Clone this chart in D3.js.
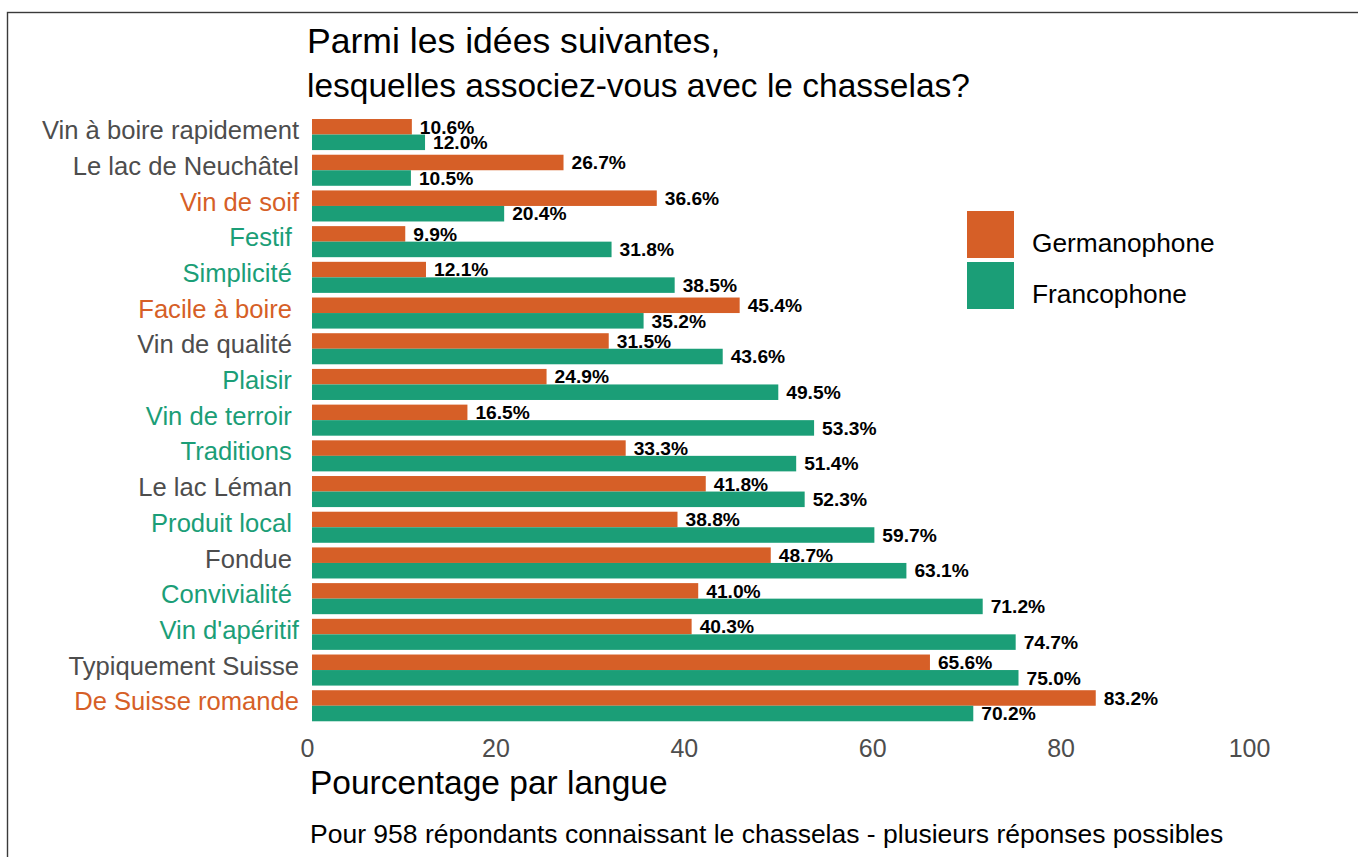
<!DOCTYPE html>
<html>
<head>
<meta charset="utf-8">
<script src="https://cdn.jsdelivr.net/npm/d3@7"></script>
<style>
  body { margin: 0; background: #fff; }
  text { font-family: 'Liberation Sans', Arial, sans-serif; white-space: pre; }
</style>
</head>
<body>
<div id="chart"></div>
<script>
// categories, top to bottom (some labels carry a trailing space, as in the original)
const categories = [
  'Vin à boire rapidement', 'Le lac de Neuchâtel', 'Vin de soif', 'Festif ', 'Simplicité ',
  'Facile à boire ', 'Vin de qualité ', 'Plaisir ', 'Vin de terroir ', 'Traditions ',
  'Le lac Léman ', 'Produit local ', 'Fondue ', 'Convivialité ', "Vin d'apéritif",
  'Typiquement Suisse', 'De Suisse romande'
]
const germanophone = [10.6, 26.7, 36.6, 9.9, 12.1, 45.4, 31.5, 24.9, 16.5, 33.3, 41.8, 38.8, 48.7, 41.0, 40.3, 65.6, 83.2]
const francophone = [12.0, 10.5, 20.4, 31.8, 38.5, 35.2, 43.6, 49.5, 53.3, 51.4, 52.3, 59.7, 63.1, 71.2, 74.7, 75.0, 70.2]
// which series colour tints each category label (null = neutral grey)
const labelTint = [
  null, null, 'Germanophone', 'Francophone', 'Francophone',
  'Germanophone', null, 'Francophone', 'Francophone', 'Francophone',
  null, 'Francophone', null, 'Francophone', 'Francophone',
  null, 'Germanophone'
]
const series = ['Germanophone', 'Francophone']
const xTicks = [0, 20, 40, 60, 80, 100]
const titleLines = ['Parmi les idées suivantes,', 'lesquelles associez-vous avec le chasselas?']
const xTitle = 'Pourcentage par langue'
const caption = 'Pour 958 répondants connaissant le chasselas - plusieurs réponses possibles'

const fullWidth = 1358,
  fullHeight = 857,
  grey = '#4d4d4d',
  colour = d3.scaleOrdinal().domain(series).range(['#d65f27', '#1b9e77'])

const rows = categories.map((c, i) => ({
  cat: c,
  tint: labelTint[i],
  values: [
    { key: 'Germanophone', v: germanophone[i] },
    { key: 'Francophone', v: francophone[i] }
  ]
}))

const svg = d3.select('#chart')
  .append('svg')
    .attr('width', fullWidth)
    .attr('height', fullHeight)

// frame around the plot (runs off the right and bottom)
svg.append('rect')
  .attr('x', 7.5)
  .attr('y', 12.5)
  .attr('width', 1500)
  .attr('height', 1000)
  .attr('fill', 'none')
  .attr('stroke', '#3a3a3a')
  .attr('stroke-width', 1.4)

const xScale = d3.scaleLinear()
  .domain([0, 100])
  .range([312, 1254])

const yScale = d3.scaleBand()
  .domain(categories)
  .range([116.7, 723.6])
  .paddingInner(0.13)
  .paddingOuter(0.065)

const ySub = d3.scaleBand()
  .domain(series)
  .range([0, yScale.bandwidth()])

// title
svg.append('text')
  .attr('x', 307)
  .attr('y', 53)
  .attr('font-size', 35.6)
  .attr('fill', '#000')
  .text(titleLines[0])

svg.append('text')
  .attr('x', 307)
  .attr('y', 97)
  .attr('font-size', 33.5)
  .attr('fill', '#000')
  .text(titleLines[1])

// category labels
svg.append('g')
  .selectAll('text')
  .data(rows)
  .enter()
  .append('text')
    .attr('x', 299)
    .attr('y', d => yScale(d.cat) + yScale.bandwidth() / 2)
    .attr('dy', '0.18em')
    .attr('text-anchor', 'end')
    .attr('font-size', 25.6)
    .attr('fill', d => d.tint ? colour(d.tint) : grey)
    .text(d => d.cat)

// bars
const groups = svg.append('g')
  .selectAll('g')
  .data(rows)
  .enter()
  .append('g')
    .attr('transform', d => `translate(0, ${yScale(d.cat)})`)

groups.selectAll('rect')
  .data(d => d.values)
  .enter()
  .append('rect')
    .attr('x', xScale(0))
    .attr('y', d => ySub(d.key))
    .attr('width', d => xScale(d.v) - xScale(0))
    .attr('height', ySub.bandwidth())
    .attr('fill', d => colour(d.key))

groups.selectAll('text')
  .data(d => d.values)
  .enter()
  .append('text')
    .attr('x', d => xScale(d.v) + 8)
    .attr('y', d => ySub(d.key) + ySub.bandwidth() / 2)
    .attr('dy', '0.35em')
    .attr('font-size', 19.2)
    .attr('font-weight', 'bold')
    .attr('fill', '#000')
    .text(d => d.v.toFixed(1) + '%')

// x axis, labels only
svg.append('g')
  .attr('transform', 'translate(-5, 726)')
  .call(d3.axisBottom(xScale).tickValues(xTicks).tickSize(0).tickPadding(13))
  .call(g => g.select('.domain').remove())
  .call(g => g.selectAll('text')
    .attr('font-size', 25)
    .attr('font-family', null)
    .attr('fill', grey))

svg.append('text')
  .attr('x', 310)
  .attr('y', 794)
  .attr('font-size', 33.5)
  .attr('fill', '#000')
  .text(xTitle)

svg.append('text')
  .attr('x', 310)
  .attr('y', 843)
  .attr('font-size', 26.5)
  .attr('fill', '#000')
  .text(caption)

// legend
const legend = svg.append('g')
  .selectAll('g')
  .data(series)
  .enter()
  .append('g')
    .attr('transform', (d, i) => `translate(967, ${211 + i * 51})`)

legend.append('rect')
  .attr('width', 47)
  .attr('height', 47)
  .attr('fill', d => colour(d))

legend.append('text')
  .attr('x', 65)
  .attr('y', 41)
  .attr('font-size', 26.3)
  .attr('fill', '#000')
  .text(d => d)
</script>
</body>
</html>
